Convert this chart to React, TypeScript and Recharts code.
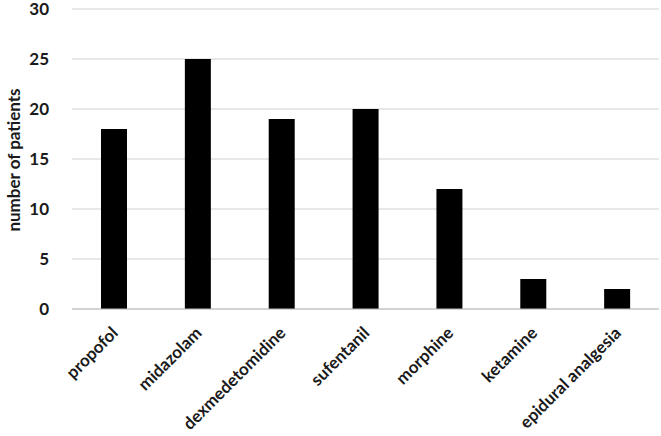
import React from "react";
import { BarChart, Bar, XAxis, YAxis, CartesianGrid } from "recharts";

const categories = ["propofol", "midazolam", "dexmedetomidine", "sufentanil", "morphine", "ketamine", "epidural analgesia"];
const patients = [18, 25, 19, 20, 12, 3, 2];
const yTicks = [0, 5, 10, 15, 20, 25, 30];

const data = categories.map((name, i) => ({ name, value: patients[i] }));

const FONT = "Lato, 'Open Sans', 'Liberation Sans', sans-serif";
const TEXT = "#1a1a1a";

const XTick = (props: any) => {
  const { x, y, payload } = props;
  return (
    <g transform={`translate(${x + 2},${y + 14})`}>
      <text
        x={0}
        y={0}
        textAnchor="end"
        dominantBaseline="middle"
        transform="rotate(-45)"
        fontFamily={FONT}
        fontWeight="bold"
        fontSize={17}
        fill={TEXT}
      >
        {payload.value}
      </text>
    </g>
  );
};

const YLabel = () => (
  <text
    x={13}
    y={160}
    transform="rotate(-90, 13, 160)"
    textAnchor="middle"
    dominantBaseline="central"
    fontFamily={FONT}
    fontWeight="bold"
    fontSize={17}
    fill={TEXT}
  >
    number of patients
  </text>
);

export default function App() {
  return (
    <div style={{ position: "absolute", left: 0, top: 0, background: "#fff" }}>
      <BarChart
        width={661}
        height={436}
        data={data}
        margin={{ top: 9, right: 2, bottom: 0, left: 0 }}
        barSize={26}
      >
        <CartesianGrid vertical={false} stroke="#d0d0d0" strokeWidth={1} />
        <XAxis
          dataKey="name"
          interval={0}
          height={127}
          tick={<XTick />}
          tickLine={false}
          axisLine={{ stroke: "#bfbfbf" }}
        />
        <YAxis
          width={72}
          domain={[0, 30]}
          ticks={yTicks}
          interval={0}
          axisLine={false}
          tickLine={false}
          tickMargin={17}
          tick={{ fontFamily: FONT, fontWeight: "bold", fontSize: 17, fill: TEXT }}
          label={<YLabel />}
        />
        <Bar dataKey="value" fill="#000000" isAnimationActive={false} />
      </BarChart>
    </div>
  );
}
